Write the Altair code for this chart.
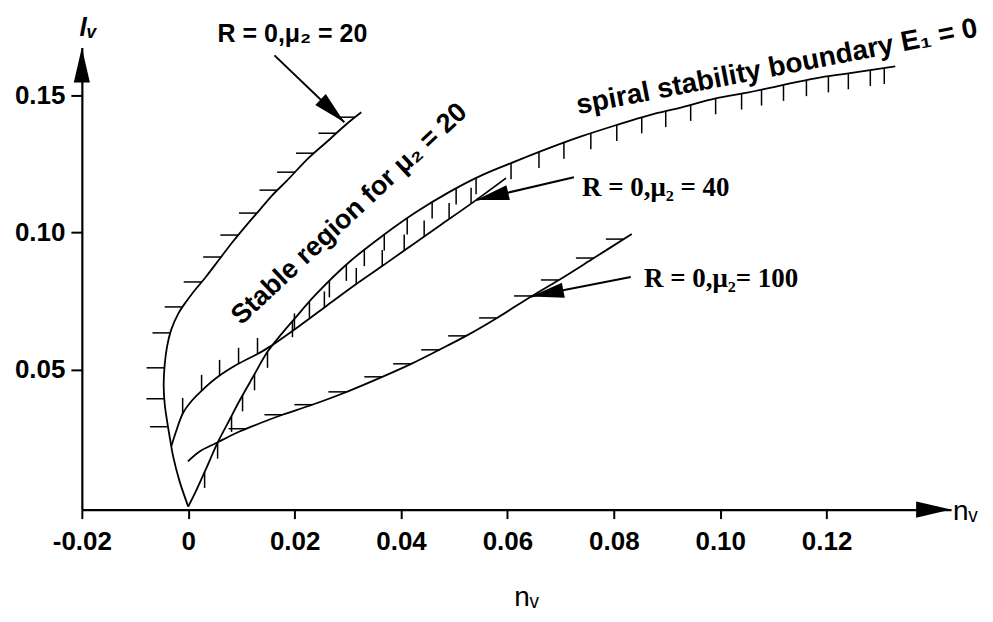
import math
import numpy as np
import pandas as pd
import altair as alt

# ---------------- values ----------------
# boundary R = 0, mu2 = 20 (loop from the origin, hatched on its left side)
a_x = [0.0, -0.00161, -0.00283, -0.00340, -0.00396, -0.00443, -0.00462, -0.00443,
       -0.00396, -0.00321, -0.00180, -0.00030, 0.00083, 0.00345, 0.00589, 0.00833,
       0.01096, 0.01340, 0.01583, 0.01846, 0.02278, 0.02597, 0.02972, 0.03253]
a_y = [0.0, 0.00910, 0.01820, 0.02439, 0.03094, 0.03750, 0.04441, 0.05169,
       0.05861, 0.06443, 0.07062, 0.07499, 0.07790, 0.08409, 0.09028, 0.09647,
       0.10266, 0.10812, 0.11358, 0.11868, 0.12741, 0.13287, 0.13943, 0.14380]

# boundary R = 0, mu2 = 40
b_x = [-0.00315, -0.00218, -0.00096, 0.00083, 0.00270, 0.00533, 0.00908, 0.01340,
       0.01527, 0.02090, 0.02597, 0.03159, 0.03647, 0.04154, 0.04717, 0.05411, 0.05974]
b_y = [0.02221, 0.02803, 0.03422, 0.03895, 0.04259, 0.04696, 0.05169, 0.05606,
       0.05824, 0.06589, 0.07317, 0.08118, 0.08773, 0.09465, 0.10229, 0.11176, 0.11977]

# spiral stability boundary E1 = 0
c_x = [0.0, 0.00158, 0.00345, 0.00552, 0.00777, 0.00964, 0.01208, 0.01490,
       0.01771, 0.01996, 0.02390, 0.03028, 0.03647, 0.04285, 0.04904, 0.05523,
       0.06161, 0.06780, 0.07400, 0.08037, 0.08657, 0.09276, 0.09914, 0.10533,
       0.11152, 0.11790, 0.12409, 0.13291]
c_y = [0.0, 0.00619, 0.01420, 0.02330, 0.03167, 0.03859, 0.04696, 0.05643,
       0.06334, 0.06844, 0.07718, 0.08919, 0.09865, 0.10739, 0.11467, 0.12086,
       0.12596, 0.13069, 0.13506, 0.13906, 0.14270, 0.14561, 0.14889, 0.15107,
       0.15362, 0.15617, 0.15799, 0.16054]

# boundary R = 0, mu2 = 100
d_x = [-0.00006, 0.00214, 0.00527, 0.00902, 0.01278, 0.01771, 0.02278, 0.02841,
       0.03647, 0.04191, 0.04716, 0.05223, 0.05805, 0.06462, 0.06968, 0.07625, 0.08338]
d_y = [0.01649, 0.02013, 0.02319, 0.02683, 0.02985, 0.03349, 0.03676, 0.04077,
       0.04732, 0.05206, 0.05715, 0.06225, 0.06880, 0.07681, 0.08264, 0.09064, 0.09938]

# where the hatch strokes sit along each boundary
a_hatch_y = [0.02912, 0.03932, 0.05060, 0.06334, 0.07281, 0.08191, 0.09101, 0.09902,
             0.10703, 0.11540, 0.12195, 0.12887, 0.13615, 0.14200]
b_hatch_x = [-0.00105, 0.00251, 0.00589, 0.00946, 0.01302, 0.01996, 0.02559, 0.03159,
             0.03647, 0.04060, 0.04435, 0.04904, 0.05317]
c_hatch_x = [0.00308, 0.00552, 0.00814, 0.01021, 0.01246, 0.01490, 0.01959, 0.02278,
             0.02653, 0.02972, 0.03310, 0.03685, 0.04116, 0.04585, 0.05036, 0.05411,
             0.06068, 0.06593, 0.07062, 0.07568, 0.08056, 0.08525, 0.08976, 0.09445,
             0.09914, 0.10402, 0.10777, 0.11190, 0.11621, 0.12034, 0.12409, 0.12822, 0.13084]
d_hatch_x = [0.01096, 0.01771, 0.02334, 0.02972, 0.03647, 0.04191, 0.04717, 0.05223,
             0.05805, 0.06462, 0.06968, 0.07625, 0.08188]

x_ticks = [-0.02, 0.0, 0.02, 0.04, 0.06, 0.08, 0.10, 0.12]
y_ticks = [0.05, 0.10, 0.15]

# annotation arrows: start -> tip
arrow_x1 = [0.01621, 0.07250, 0.08319]
arrow_y1 = [0.16454, 0.12013, 0.08373]
arrow_x2 = [0.02934, 0.05411, 0.06443]
arrow_y2 = [0.14015, 0.11176, 0.07659]

# annotation texts
sans_text = ["R = 0,\u03bc\u2082 = 20", "Stable region for \u03bc\u2082 = 20",
             "spiral stability boundary E\u2081 = 0"]
sans_x = [0.01959, 0.03028, 0.11096]
sans_y = [0.16927, 0.10666, 0.15726]
sans_angle = [0, 317, 349]
sans_size = [25, 27, 28]
sans_baseline = ["alphabetic", "middle", "alphabetic"]

serif_text = ["R = 0,\u03bc\u2082 = 40", "R = 0,\u03bc\u2082= 100"]
serif_x = [0.08788, 0.10017]
serif_y = [0.11321, 0.08009]

# ---------------- layout ----------------
W, H = 871, 463
XMIN, XMAX = -0.02, 0.1434
YMIN, YMAX = -0.0011, 0.1674
kx = W / (XMAX - XMIN)
ky = H / (YMAX - YMIN)

SANS = "Liberation Sans, Arial, sans-serif"
SERIF = "Liberation Serif, Times New Roman, serif"
HEAD = "M0,0L0.23,1L-0.23,1Z"

rows = []
for name, xs, ys in [("A", a_x, a_y), ("B", b_x, b_y), ("C", c_x, c_y), ("D", d_x, d_y)]:
    for i, (xv, yv) in enumerate(zip(xs, ys)):
        rows.append({"curve": name, "order": i, "x": xv, "y": yv})
curves = pd.DataFrame(rows)

HL, VL = 18, 16
hat = []
for yv in a_hatch_y:
    xv = float(np.interp(yv, a_y, a_x))
    hat.append({"x": xv, "y": yv, "x2": xv - HL / kx, "y2": yv})
for xv in b_hatch_x:
    yv = float(np.interp(xv, b_x, b_y))
    hat.append({"x": xv, "y": yv, "x2": xv, "y2": yv + VL / ky})
for xv in c_hatch_x:
    yv = float(np.interp(xv, c_x, c_y))
    hat.append({"x": xv, "y": yv, "x2": xv, "y2": yv - VL / ky})
for xv in d_hatch_x:
    yv = float(np.interp(xv, d_x, d_y))
    hat.append({"x": xv, "y": yv, "x2": xv - HL / kx, "y2": yv})
hatch_df = pd.DataFrame(hat)

arrows_df = pd.DataFrame({"x": arrow_x1, "y": arrow_y1, "x2": arrow_x2, "y2": arrow_y2})

heads = []
for x1, y1, x2, y2 in zip(arrow_x1, arrow_y1, arrow_x2, arrow_y2):
    phi = math.degrees(math.atan2(-(y2 - y1) * ky, (x2 - x1) * kx))
    heads.append({"x": x2, "y": y2, "ang": (phi + 90) % 360, "size": 4356})
heads.append({"x": XMAX, "y": YMIN, "ang": 90, "size": 4900})
heads.append({"x": XMIN, "y": YMAX, "ang": 0, "size": 4900})
heads_df = pd.DataFrame(heads)

sans_df = pd.DataFrame({"t": sans_text, "x": sans_x, "y": sans_y, "a": sans_angle,
                        "s": sans_size, "b": sans_baseline})
serif_df = pd.DataFrame({"t": serif_text, "x": serif_x, "y": serif_y})
nv_df = pd.DataFrame({"t": ["n\u1d65"], "x": [XMAX + 2 / kx], "y": [YMIN - 2 / ky]})

xscale = alt.Scale(domain=[XMIN, XMAX], nice=False, zero=False)
yscale = alt.Scale(domain=[YMIN, YMAX], nice=False, zero=False)

xaxis = alt.Axis(
    values=x_ticks,
    labelExpr="datum.value == 0 ? '0' : (datum.value < 0 ? '-' + format(-datum.value, '.2f') : format(datum.value, '.2f'))",
    labelFont=SANS, labelFontSize=26, labelFontWeight="bold", labelColor="black",
    tickColor="black", tickWidth=2, tickSize=9, domainColor="black", domainWidth=2.2,
    grid=False, labelPadding=10, labelFlush=False, labelOverlap=False,
    title="n\u1d65", titleFont=SANS, titleFontSize=28, titleFontWeight="normal",
    titleColor="black", titleX=445, titleY=96, titleAlign="center", titleBaseline="alphabetic",
)
yaxis = alt.Axis(
    values=y_ticks, format=".2f",
    labelFont=SANS, labelFontSize=26, labelFontWeight="bold", labelColor="black",
    tickColor="black", tickWidth=2, tickSize=11, domainColor="black", domainWidth=2.2,
    grid=False, labelPadding=6, labelFlush=False, labelOverlap=False,
    title="l\u1d65", titleFont=SANS, titleFontSize=26, titleFontWeight="bold",
    titleFontStyle="italic", titleColor="black", titleAngle=0, titleX=6, titleY=-12,
    titleAlign="center", titleBaseline="alphabetic",
)

lines = alt.Chart(curves).mark_line(color="black", strokeWidth=1.8, interpolate="catmull-rom").encode(
    x=alt.X("x:Q", scale=xscale, axis=xaxis),
    y=alt.Y("y:Q", scale=yscale, axis=yaxis),
    detail="curve:N",
    order="order:Q",
)

hatches = alt.Chart(hatch_df).mark_rule(color="black", strokeWidth=1.5).encode(
    x="x:Q", y="y:Q", x2="x2:Q", y2="y2:Q"
)

shafts = alt.Chart(arrows_df).mark_rule(color="black", strokeWidth=2).encode(
    x="x:Q", y="y:Q", x2="x2:Q", y2="y2:Q"
)

heads_layer = alt.Chart(heads_df).mark_point(
    shape=HEAD, filled=True, color="black", opacity=1, strokeWidth=0
).encode(
    x="x:Q", y="y:Q",
    angle=alt.Angle("ang:Q", scale=None),
    size=alt.Size("size:Q", scale=None),
)

text_layers = []
for i in range(len(sans_df)):
    row = sans_df.iloc[[i]]
    text_layers.append(
        alt.Chart(row).mark_text(
            font=SANS, fontSize=int(row.s.iloc[0]), fontWeight="bold", color="black",
            align="center", baseline=row.b.iloc[0]
        ).encode(x="x:Q", y="y:Q", text="t:N", angle=alt.Angle("a:Q", scale=None))
    )

serif_layer = alt.Chart(serif_df).mark_text(
    font=SERIF, fontSize=27, fontWeight="bold", color="black", align="center", baseline="alphabetic"
).encode(x="x:Q", y="y:Q", text="t:N")

nv_layer = alt.Chart(nv_df).mark_text(
    font=SANS, fontSize=28, color="black", align="left", baseline="middle"
).encode(x="x:Q", y="y:Q", text="t:N")

chart = alt.layer(
    lines, hatches, shafts, heads_layer, *text_layers, serif_layer, nv_layer
).properties(
    width=W, height=H,
    padding={"left": 74, "top": 39, "right": 34, "bottom": 104},
    autosize=alt.AutoSizeParams(type="none"),
    background="white",
).configure_view(stroke=None)

chart.save("out.html", embed_options={"renderer": "svg", "actions": False})
